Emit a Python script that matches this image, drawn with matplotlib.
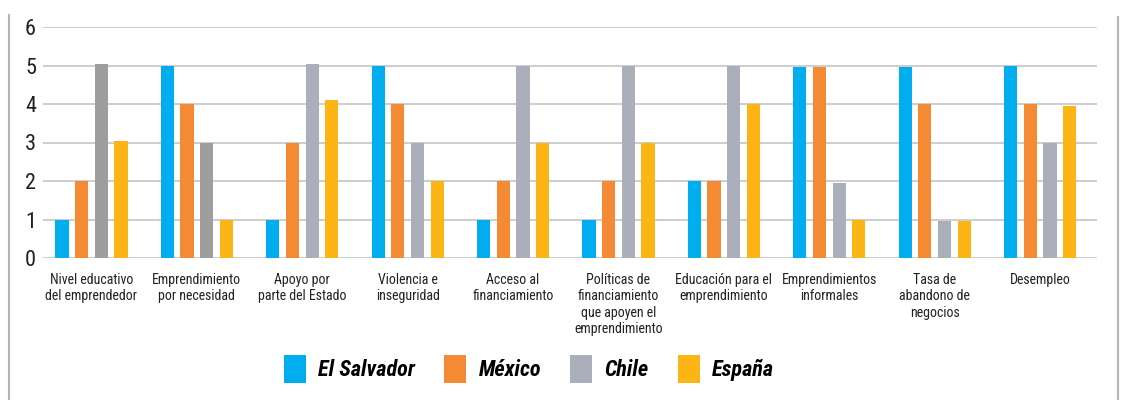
import numpy as np
import matplotlib
matplotlib.use("Agg")
import matplotlib.pyplot as plt
from matplotlib import font_manager
from matplotlib.patches import Patch
from matplotlib.lines import Line2D

# pick a narrow face if one is installed
installed = {f.name for f in font_manager.fontManager.ttflist}
narrow = None
for name in ["Roboto Condensed", "Liberation Sans Narrow", "DejaVu Sans Condensed",
             "Open Sans Condensed", "Noto Sans Condensed"]:
    if name in installed:
        narrow = name
        break
stretch = "normal"
if narrow is None:
    narrow = "DejaVu Sans"
    stretch = "condensed"
plt.rcParams['font.family'] = [narrow, 'DejaVu Sans']
plt.rcParams['font.stretch'] = stretch

categories = [
    "Nivel educativo\ndel emprendedor",
    "Emprendimiento\npor necesidad",
    "Apoyo por\nparte del Estado",
    "Violencia e\ninseguridad",
    "Acceso al\nfinanciamiento",
    "Políticas de\nfinanciamiento\nque apoyen el\nemprendimiento",
    "Educación para el\nemprendimiento",
    "Emprendimientos\ninformales",
    "Tasa de\nabandono de\nnegocios",
    "Desempleo",
]
countries = ["El Salvador", "México", "Chile", "España"]
el_salvador = [1, 5, 1, 5, 1, 1, 2, 4.95, 4.95, 5]
mexico = [2, 4, 3, 4, 2, 2, 2, 4.95, 4, 4]
chile = [5.05, 3, 5.05, 3, 5, 5, 5, 1.95, 0.95, 3]
espana = [3.05, 1, 4.1, 2, 3, 3, 4, 1, 0.95, 3.95]
y_ticks = [0, 1, 2, 3, 4, 5, 6]

colors = ["#00AEEF", "#F58A34", "#ABAEBB", "#FDB515"]
chile_colors = ["#9E9E9E", "#9E9E9E"] + ["#ABAEBB"] * 8

fig = plt.figure(figsize=(11.21, 4.0), dpi=100)
ax = fig.add_axes([43 / 1121, 1 - 258 / 400, 1054 / 1121, 231 / 400])

x = np.arange(len(categories))
step = 0.187
width = 0.125
series = [el_salvador, mexico, chile, espana]
for i, vals in enumerate(series):
    col = chile_colors if i == 2 else colors[i]
    ax.bar(x + (i - 1.5) * step, vals, width, color=col, zorder=3)

ax.set_xlim(-0.46, 9.54)
ax.set_ylim(0, 6)
ax.set_yticks(y_ticks)
ax.set_yticklabels([str(t) for t in y_ticks], fontsize=16, color="#222222")
ax.set_xticks(x)
ax.set_xticklabels(categories, fontsize=10, color="#222222", linespacing=1.2)
ax.tick_params(axis="both", length=0)
ax.tick_params(axis="y", pad=5)
ax.tick_params(axis="x", pad=11)
ax.grid(axis="y", color="#C9C9C9", linewidth=1.3, zorder=0)
for s in ax.spines.values():
    s.set_visible(False)

# side frame lines
fig.add_artist(Line2D([9 / 1121, 9 / 1121], [0, 1 - 15 / 400], color="#B5B5B5", lw=1.5))
fig.add_artist(Line2D([1118 / 1121, 1118 / 1121], [0, 1 - 17 / 400], color="#B5B5B5", lw=1.5))

handles = [Patch(facecolor=c, edgecolor="none") for c in colors]
fig.legend(handles, countries, loc="center", bbox_to_anchor=(529 / 1121, 1 - 369 / 400),
           ncol=4, frameon=False, handlelength=1.0, handleheight=1.55,
           handletextpad=0.55, columnspacing=1.3,
           prop={"size": 16, "style": "italic", "weight": "bold"})

fig.savefig("out.png", dpi=100)
